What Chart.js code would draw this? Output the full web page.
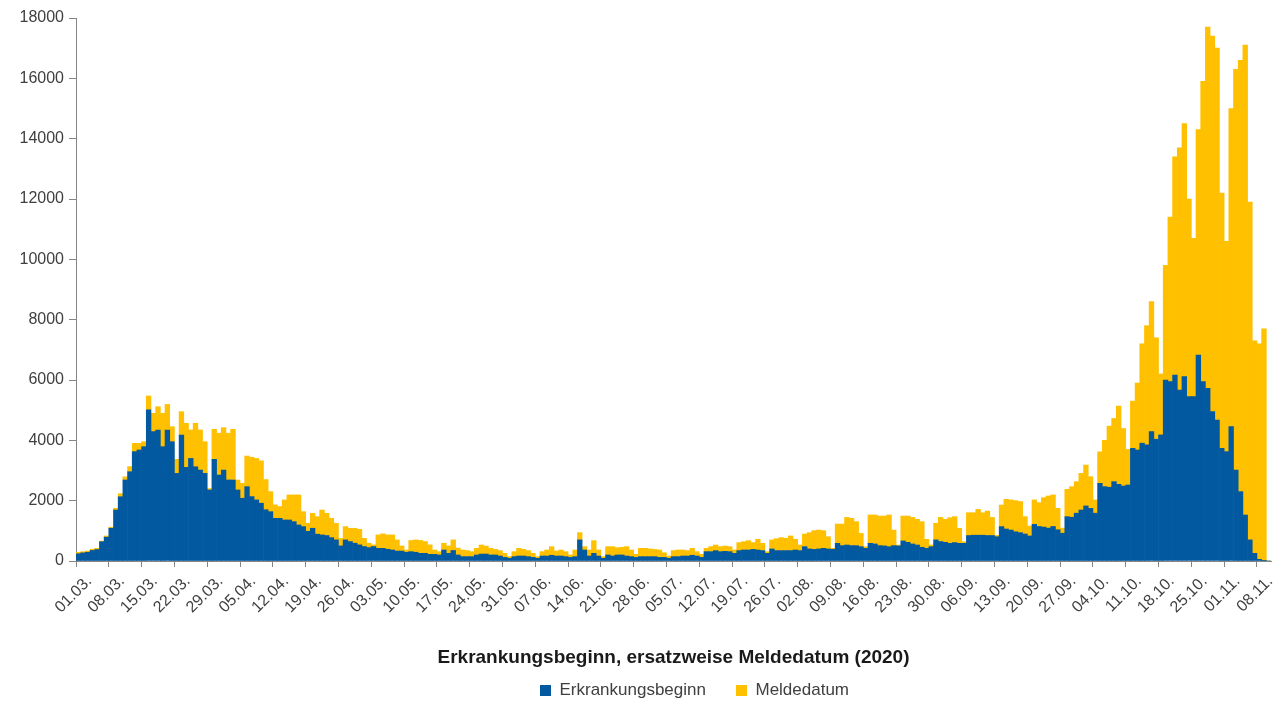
<!DOCTYPE html>
<html><head><meta charset="utf-8">
<script src="https://cdn.jsdelivr.net/npm/chart.js@4.4.1/dist/chart.umd.min.js"></script>
<style>html,body{margin:0;padding:0;background:#fff;}canvas{display:block;}</style>
</head><body>
<canvas id="c" width="1273" height="709"></canvas>
<script>
// Categories: 01.03.2020 – 10.11.2020 (daily)
const categories = [
"01.03.","02.03.","03.03.","04.03.","05.03.","06.03.","07.03.","08.03.","09.03.","10.03.","11.03.","12.03.","13.03.","14.03.","15.03.","16.03.","17.03.","18.03.","19.03.","20.03.","21.03.","22.03.","23.03.","24.03.","25.03.","26.03.","27.03.","28.03.","29.03.","30.03.","31.03.",
"01.04.","02.04.","03.04.","04.04.","05.04.","06.04.","07.04.","08.04.","09.04.","10.04.","11.04.","12.04.","13.04.","14.04.","15.04.","16.04.","17.04.","18.04.","19.04.","20.04.","21.04.","22.04.","23.04.","24.04.","25.04.","26.04.","27.04.","28.04.","29.04.","30.04.",
"01.05.","02.05.","03.05.","04.05.","05.05.","06.05.","07.05.","08.05.","09.05.","10.05.","11.05.","12.05.","13.05.","14.05.","15.05.","16.05.","17.05.","18.05.","19.05.","20.05.","21.05.","22.05.","23.05.","24.05.","25.05.","26.05.","27.05.","28.05.","29.05.","30.05.","31.05.",
"01.06.","02.06.","03.06.","04.06.","05.06.","06.06.","07.06.","08.06.","09.06.","10.06.","11.06.","12.06.","13.06.","14.06.","15.06.","16.06.","17.06.","18.06.","19.06.","20.06.","21.06.","22.06.","23.06.","24.06.","25.06.","26.06.","27.06.","28.06.","29.06.","30.06.",
"01.07.","02.07.","03.07.","04.07.","05.07.","06.07.","07.07.","08.07.","09.07.","10.07.","11.07.","12.07.","13.07.","14.07.","15.07.","16.07.","17.07.","18.07.","19.07.","20.07.","21.07.","22.07.","23.07.","24.07.","25.07.","26.07.","27.07.","28.07.","29.07.","30.07.","31.07.",
"01.08.","02.08.","03.08.","04.08.","05.08.","06.08.","07.08.","08.08.","09.08.","10.08.","11.08.","12.08.","13.08.","14.08.","15.08.","16.08.","17.08.","18.08.","19.08.","20.08.","21.08.","22.08.","23.08.","24.08.","25.08.","26.08.","27.08.","28.08.","29.08.","30.08.","31.08.",
"01.09.","02.09.","03.09.","04.09.","05.09.","06.09.","07.09.","08.09.","09.09.","10.09.","11.09.","12.09.","13.09.","14.09.","15.09.","16.09.","17.09.","18.09.","19.09.","20.09.","21.09.","22.09.","23.09.","24.09.","25.09.","26.09.","27.09.","28.09.","29.09.","30.09.",
"01.10.","02.10.","03.10.","04.10.","05.10.","06.10.","07.10.","08.10.","09.10.","10.10.","11.10.","12.10.","13.10.","14.10.","15.10.","16.10.","17.10.","18.10.","19.10.","20.10.","21.10.","22.10.","23.10.","24.10.","25.10.","26.10.","27.10.","28.10.","29.10.","30.10.","31.10.",
"01.11.","02.11.","03.11.","04.11.","05.11.","06.11.","07.11.","08.11.","09.11.","10.11."
];

// Series 1: Erkrankungsbeginn (blue)
const erkrankungsbeginn = [
240,270,290,350,380,640,790,1085,1690,2130,
2685,2960,3625,3680,3790,5010,4290,4340,3790,4340,
3955,2905,4175,3105,3400,3125,3015,2905,2355,3370,
2850,3015,2685,2685,2355,2080,2465,2135,2025,1915,
1700,1635,1415,1415,1360,1360,1305,1195,1140,985,
1085,890,865,845,775,700,500,700,645,590,
535,480,445,480,420,420,390,365,330,330,
290,310,290,255,255,220,220,200,365,255,
350,200,145,145,145,200,230,230,200,200,
165,120,90,145,165,165,145,120,90,165,
165,190,165,165,145,120,145,700,365,165,
255,165,90,200,165,200,200,165,145,120,
145,145,145,145,120,120,90,145,145,165,
165,190,165,120,310,310,345,310,320,310,
255,345,365,365,385,365,345,255,400,345,
345,345,345,365,345,475,400,385,400,420,
400,385,585,510,530,510,510,475,420,585,
565,510,500,475,510,500,665,620,565,530,
455,420,475,700,645,620,585,610,585,585,
845,855,855,855,845,845,805,1140,1060,1025,
970,940,895,830,1215,1145,1125,1090,1145,1035,
920,1470,1450,1585,1690,1825,1745,1585,2575,2465,
2445,2630,2540,2485,2520,3735,3680,3905,3850,4290,
4035,4180,6000,5945,6165,5670,6110,5450,5450,6830,
5945,5725,4950,4675,3735,3625,4455,3015,2300,1525,
700,255,55,10,0
];

// Series 2: Meldedatum (yellow, stacked on top)
const meldedatum = [
50,40,40,40,40,20,40,35,60,100,
105,170,275,220,165,460,605,775,1105,850,
495,465,775,1460,945,1440,1330,1050,45,995,
1385,1405,1550,1680,330,495,1015,1305,1375,1405,
1000,665,445,390,665,830,885,995,495,265,
495,580,825,735,640,550,250,440,440,495,
515,270,145,55,445,480,475,500,370,170,
75,370,410,425,390,315,145,110,225,245,
350,230,220,200,165,220,300,265,220,185,
180,135,55,165,255,220,200,135,55,145,
200,285,165,200,165,80,220,240,110,200,
420,200,55,275,310,240,255,310,220,100,
275,275,255,240,245,155,75,200,220,200,
180,230,145,100,110,165,185,165,175,165,
110,265,275,310,225,355,240,55,300,395,
430,410,485,355,185,420,540,620,625,585,
405,35,640,715,915,905,795,440,55,940,
960,980,990,1050,515,30,825,870,880,850,
850,300,55,550,800,760,850,860,500,55,
755,745,855,745,810,600,45,715,985,1000,
1030,1030,575,330,810,790,975,1065,1045,710,
170,905,1015,1045,1215,1355,1050,440,1045,1535,
2025,2095,2595,1905,1180,1565,2220,3295,3950,4310,
3365,2020,3800,5455,7235,8030,8390,6550,5250,7470,
9955,11975,12450,12325,8465,6975,10545,13285,14300,15575,
11200,7045,7145,7690,0
];

const seriesNames = ["Erkrankungsbeginn", "Meldedatum"];
const xAxisTitle = "Erkrankungsbeginn, ersatzweise Meldedatum (2020)";
const yTickValues = [0,2000,4000,6000,8000,10000,12000,14000,16000,18000];
const labelEvery = 7;

const FONT = "'Liberation Sans', Arial, sans-serif";
const AXIS_GREY = "#868686";
const TEXT_GREY = "#404040";

const legendShift = {
  id: 'legendShift',
  afterLayout(chart) {
    const lg = chart.legend;
    if (lg) { lg.left += 59; lg.right += 59; }
  }
};

new Chart(document.getElementById('c'), {
  type: 'bar',
  data: {
    labels: categories,
    datasets: [
      { label: seriesNames[0], data: erkrankungsbeginn, backgroundColor: '#03599f', borderWidth: 0,
        barPercentage: 1, categoryPercentage: 1, stack: 's' },
      { label: seriesNames[1], data: meldedatum, backgroundColor: '#ffc000', borderWidth: 0,
        barPercentage: 1, categoryPercentage: 1, stack: 's' }
    ]
  },
  options: {
    responsive: false,
    animation: false,
    layout: { padding: { left: 0, right: 2, top: 18, bottom: 0 } },
    plugins: {
      legend: {
        position: 'bottom',
        labels: { boxWidth: 11, boxHeight: 11, padding: 30, color: TEXT_GREY,
                  font: { family: FONT, size: 17 } }
      },
      tooltip: { enabled: false }
    },
    scales: {
      x: {
        stacked: true,
        offset: true,
        grid: {
          offset: true, drawOnChartArea: false, drawTicks: true, tickLength: 6,
          color: (ctx) => (ctx.index % labelEvery === 0 ? AXIS_GREY : 'rgba(0,0,0,0)')
        },
        border: { display: true, color: AXIS_GREY, width: 1 },
        ticks: {
          autoSkip: false, maxRotation: 45, minRotation: 45, padding: 5, labelOffset: 11,
          color: TEXT_GREY, font: { family: FONT, size: 16 },
          callback: function(value, index) { return index % labelEvery === 0 ? categories[index] : ''; }
        },
        title: { display: true, text: xAxisTitle, color: '#1a1a1a',
                 font: { family: FONT, size: 19, weight: 'bold' }, padding: { top: 0, bottom: -17 } },
        afterFit: (scale) => {
          scale.height = 709 - 561 - (scale.chart.legend ? scale.chart.legend.height : 0);
          scale.paddingRight = 0;
        }
      },
      y: {
        stacked: true,
        min: 0, max: 18000,
        afterBuildTicks: (scale) => { scale.ticks = yTickValues.map(v => ({ value: v })); },
        grid: { drawOnChartArea: false, drawTicks: true, tickLength: 7, color: AXIS_GREY },
        border: { display: true, color: AXIS_GREY, width: 1 },
        ticks: { color: TEXT_GREY, padding: 5, font: { family: FONT, size: 16 },
                 callback: (v) => String(v) },
        afterFit: (scale) => { scale.width = 76; }
      }
    }
  },
  plugins: [legendShift]
});
</script>
</body></html>
